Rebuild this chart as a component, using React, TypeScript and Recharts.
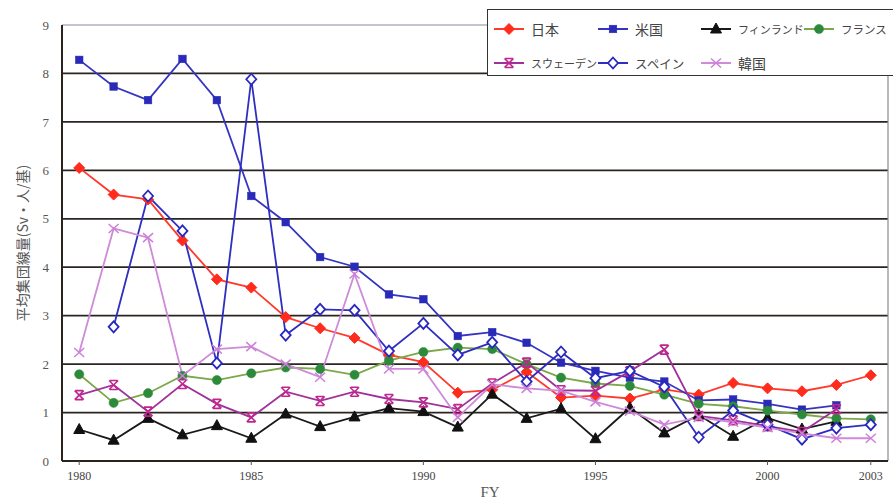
import React from 'react';
import { LineChart, Line, XAxis, YAxis, ReferenceLine } from 'recharts';

const years = [1980,1981,1982,1983,1984,1985,1986,1987,1988,1989,1990,1991,1992,1993,1994,1995,1996,1997,1998,1999,2000,2001,2002,2003];
const japan = [6.05,5.5,5.4,4.55,3.75,3.58,2.97,2.74,2.54,2.19,2.04,1.41,1.47,1.84,1.31,1.35,1.29,1.48,1.37,1.61,1.5,1.44,1.57,1.77];
const usa = [8.28,7.73,7.45,8.3,7.45,5.47,4.93,4.21,4.01,3.44,3.34,2.58,2.66,2.44,2.03,1.86,1.72,1.64,1.25,1.27,1.18,1.06,1.15,null];
const finland = [0.65,0.43,0.88,0.54,0.73,0.47,0.97,0.71,0.91,1.09,1.02,0.7,1.38,0.88,1.08,0.46,1.1,0.58,0.95,0.51,0.89,0.66,0.82,null];
const france = [1.79,1.2,1.4,1.76,1.67,1.81,1.93,1.9,1.78,2.07,2.25,2.34,2.31,2.0,1.72,1.6,1.55,1.37,1.18,1.13,1.04,0.96,0.88,0.86];
const sweden = [1.36,1.57,1.02,1.59,1.18,0.9,1.43,1.24,1.43,1.28,1.21,1.07,1.6,2.03,1.46,1.45,1.85,2.3,0.93,0.84,0.72,0.6,1.07,null];
const spain = [null,2.77,5.47,4.75,2.02,7.88,2.6,3.13,3.11,2.27,2.84,2.19,2.45,1.64,2.25,1.71,1.86,1.53,0.49,1.04,0.75,0.45,0.68,0.75];
const korea = [2.24,4.8,4.61,1.76,2.31,2.36,2.0,1.73,3.86,1.9,1.9,0.9,1.58,1.5,1.45,1.22,1.03,0.75,0.9,0.8,0.69,0.57,0.47,0.47];

const xTicks = [1980,1985,1990,1995,2000,2003];
const yTicks = [0,1,2,3,4,5,6,7,8,9];
const gridValues = [1,2,3,4,5,6,7,8];

const seriesNames = ['日本','米国','フィンランド','フランス','スウェーデン','スペイン','韓国'];

const data = years.map((y, i) => ({
  year: y,
  japan: japan[i],
  usa: usa[i],
  finland: finland[i],
  france: france[i],
  sweden: sweden[i],
  spain: spain[i],
  korea: korea[i],
}));

type ShapeKind = 'diamond' | 'square' | 'triangle' | 'circle' | 'star' | 'odiamond' | 'cross';

function shape(kind: ShapeKind, cx: number, cy: number, color: string, key?: string) {
  switch (kind) {
    case 'diamond':
      return <polygon key={key} points={`${cx},${cy - 5.5} ${cx + 5.5},${cy} ${cx},${cy + 5.5} ${cx - 5.5},${cy}`} fill={color} stroke={color} strokeWidth={1} />;
    case 'square':
      return <rect key={key} x={cx - 3.8} y={cy - 3.8} width={7.6} height={7.6} fill={color} stroke={color} strokeWidth={0.5} />;
    case 'triangle':
      return <polygon key={key} points={`${cx},${cy - 6} ${cx + 5.5},${cy + 4} ${cx - 5.5},${cy + 4}`} fill={color} stroke={color} strokeWidth={1} />;
    case 'circle':
      return <circle key={key} cx={cx} cy={cy} r={4.6} fill={color} stroke={color} strokeWidth={0.5} />;
    case 'star':
      return (
        <g key={key} stroke={color} strokeWidth={1.6} fill="none">
          <path d={`M${cx - 4.5},${cy - 4.5} L${cx + 4.5},${cy + 4.5} M${cx + 4.5},${cy - 4.5} L${cx - 4.5},${cy + 4.5} M${cx - 4},${cy - 4.5} L${cx + 4},${cy - 4.5} M${cx - 4},${cy + 4.5} L${cx + 4},${cy + 4.5}`} />
        </g>
      );
    case 'odiamond':
      return <polygon key={key} points={`${cx},${cy - 5.5} ${cx + 5},${cy} ${cx},${cy + 5.5} ${cx - 5},${cy}`} fill="#fff" stroke={color} strokeWidth={1.8} />;
    case 'cross':
    default:
      return (
        <g key={key} stroke={color} strokeWidth={1.5} fill="none">
          <path d={`M${cx - 5},${cy - 4.5} L${cx + 5},${cy + 4.5} M${cx + 5},${cy - 4.5} L${cx - 5},${cy + 4.5}`} />
        </g>
      );
  }
}

const series: { key: string; name: string; color: string; line: string; kind: ShapeKind }[] = [
  { key: 'japan', name: seriesNames[0], color: '#ff2b1c', line: '#ff3a2a', kind: 'diamond' },
  { key: 'usa', name: seriesNames[1], color: '#2a2ab8', line: '#3535c0', kind: 'square' },
  { key: 'finland', name: seriesNames[2], color: '#111111', line: '#1a1a1a', kind: 'triangle' },
  { key: 'france', name: seriesNames[3], color: '#2d8a3a', line: '#7aa84a', kind: 'circle' },
  { key: 'sweden', name: seriesNames[4], color: '#c0268e', line: '#a0309a', kind: 'star' },
  { key: 'spain', name: seriesNames[5], color: '#2828c0', line: '#2e2ec0', kind: 'odiamond' },
  { key: 'korea', name: seriesNames[6], color: '#cc80d8', line: '#cf8ad9', kind: 'cross' },
];

const makeDot = (kind: ShapeKind, color: string, k: string) => (props: any) => {
  const { cx, cy, index, value } = props;
  const key = `${k}-${index}`;
  if (value == null || cx == null || cy == null || isNaN(cy)) return <g key={key} />;
  return shape(kind, cx, cy, color, key);
};

function LegendBox() {
  const pos = [
    [6, 19], [110, 19], [213, 19], [316, 19],
    [6, 53], [110, 53], [213, 53],
  ];
  const sizes = [14, 14, 11, 11.5, 11, 12.5, 14];
  return (
    <div style={{ position: 'absolute', left: 487, top: 9, width: 420, height: 67, border: '1.5px solid #333', background: '#fff', boxSizing: 'border-box', overflow: 'hidden' }}>
      <svg width={420} height={67} style={{ position: 'absolute', left: 0, top: 0 }}>
        {series.map((s, i) => {
          const [x, y] = pos[i];
          return (
            <g key={s.key}>
              <line x1={x} y1={y} x2={x + 30} y2={y} stroke={s.line} strokeWidth={2} />
              {shape(s.kind, x + 15, y, s.color)}
              <text x={x + 37} y={y} dominantBaseline="central" fontFamily="'Noto Sans CJK JP'" fontSize={sizes[i]} fill="#444">{s.name}</text>
            </g>
          );
        })}
      </svg>
    </div>
  );
}

export default function App() {
  return (
    <div style={{ position: 'absolute', left: 0, top: 0, width: 893, height: 499, background: '#fff', overflow: 'hidden' }}>
      <LineChart width={893} height={499} data={data} margin={{ top: 25, right: 5, bottom: 0, left: 0 }}>
        <XAxis
          dataKey="year"
          type="number"
          domain={[1979.5, 2003.5]}
          ticks={xTicks}
          interval={0}
          height={38}
          axisLine={{ stroke: '#2a2420', strokeWidth: 2 }}
          tickLine={{ stroke: '#555' }}
          tickSize={4}
          tickMargin={6}
          tick={{ fontFamily: "'Liberation Serif'", fontSize: 12, fill: '#444' }}
        />
        <YAxis
          type="number"
          domain={[0, 9]}
          ticks={yTicks}
          interval={0}
          width={62}
          axisLine={{ stroke: '#2a2420', strokeWidth: 2 }}
          tickLine={false}
          tickSize={4}
          tickMargin={9}
          tick={{ fontFamily: "'Liberation Serif'", fontSize: 13, fill: '#555' }}
        />
        {gridValues.map((v) => (
          <ReferenceLine key={v} y={v} stroke="#2b2521" strokeWidth={1.8} />
        ))}
        <ReferenceLine y={9} stroke="#8a8a9a" strokeWidth={1.2} />
        <ReferenceLine x={2003.5} stroke="#8a8a8a" strokeWidth={1.2} />
        {series.map((s) => (
          <Line
            key={s.key}
            dataKey={s.key}
            name={s.name}
            stroke={s.line}
            strokeWidth={1.8}
            dot={makeDot(s.kind, s.color, s.key)}
            activeDot={false}
            isAnimationActive={false}
            connectNulls={false}
          />
        ))}
      </LineChart>
      <LegendBox />
      <svg width={893} height={499} style={{ position: 'absolute', left: 0, top: 0, pointerEvents: 'none' }}>
        <text x={22} y={243} transform="rotate(-90 22 243)" textAnchor="middle" dominantBaseline="central" fontFamily="'Noto Sans CJK JP'" fontSize={14} fill="#555">平均集団線量(Sv・人/基)</text>
        <text x={490} y={492} textAnchor="middle" dominantBaseline="central" fontFamily="'Liberation Serif'" fontSize={15} fill="#555">FY</text>
      </svg>
    </div>
  );
}
